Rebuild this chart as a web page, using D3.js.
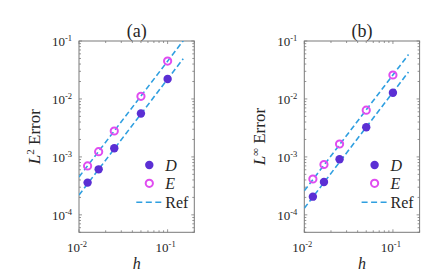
<!DOCTYPE html>
<html>
<head>
<meta charset="utf-8">
<script src="https://cdn.jsdelivr.net/npm/d3@7"></script>
<style>
  body { margin: 0; background: #fff; }
  svg text { font-family: "Liberation Serif", "Times New Roman", serif; fill: #262626; }
</style>
</head>
<body>
<svg id="chart" width="443" height="277"></svg>
<script>
// mesh sizes and measured errors
var hVals = [1/80, 1/60, 1/40, 1/20, 1/10];
var l2D = [3.6e-4, 6.1e-4, 1.41e-3, 5.6e-3, 2.21e-2];
var l2E = [7.0e-4, 1.23e-3, 2.8e-3, 1.11e-2, 4.5e-2];
var linfD = [2.06e-4, 3.7e-4, 9.1e-4, 3.24e-3, 1.28e-2];
var linfE = [4.16e-4, 7.4e-4, 1.67e-3, 6.4e-3, 2.59e-2];

// reference (slope 2) lines, endpoints
var refH = [0.01, 0.15];
var l2RefHi = [4.5e-4, 1.01e-1];
var l2RefLo = [2.2e-4, 4.95e-2];
var linfRefHi = [2.6e-4, 5.85e-2];
var linfRefLo = [1.3e-4, 2.93e-2];

// ticks
var xMajor = [1e-2, 1e-1];
var xMajorExp = ["-2", "-1"];
var yMajor = [1e-1, 1e-2, 1e-3, 1e-4];
var yMajorExp = ["-1", "-2", "-3", "-4"];

var colD = "#5b2fd4";
var colE = "#e04cf0";
var colRef = "#2f9fe0";
var axisCol = "#7a7a7a";

var svg = d3.select("#chart");
var pw = 115.3, ph = 191.3, top0 = 41;

function minorTicks(lo, hi) {
  var out = [];
  for (var e = -6; e <= 0; e++) {
    for (var m = 1; m <= 9; m++) {
      var v = m * Math.pow(10, e);
      if (v >= lo * 0.999 && v <= hi * 1.001) out.push(v);
    }
  }
  return out;
}

function drawPanel(left, title, ylab, ysup, dVals, eVals, refHi, refLo, id) {
  var x = d3.scaleLog().domain([0.01, 0.2]).range([0, pw]);
  var y = d3.scaleLog().domain([5e-5, 0.1]).range([ph, 0]);

  var g = svg.append("g").attr("transform", "translate(" + left + "," + top0 + ")");

  g.append("clipPath").attr("id", "clip" + id)
    .append("rect").attr("width", pw).attr("height", ph);

  // ticks (inward, on all four sides)
  var xm = minorTicks(0.01, 0.2), ym = minorTicks(5e-5, 0.1);
  xm.forEach(function(v) {
    var L = xMajor.indexOf(v) >= 0 ? 3 : 2;
    g.append("line").attr("x1", x(v)).attr("x2", x(v)).attr("y1", ph).attr("y2", ph - L)
      .attr("stroke", axisCol).attr("stroke-width", 0.8);
    g.append("line").attr("x1", x(v)).attr("x2", x(v)).attr("y1", 0).attr("y2", L)
      .attr("stroke", axisCol).attr("stroke-width", 0.8);
  });
  ym.forEach(function(v) {
    var L = yMajor.indexOf(v) >= 0 ? 3 : 2;
    g.append("line").attr("y1", y(v)).attr("y2", y(v)).attr("x1", 0).attr("x2", L)
      .attr("stroke", axisCol).attr("stroke-width", 0.8);
    g.append("line").attr("y1", y(v)).attr("y2", y(v)).attr("x1", pw).attr("x2", pw - L)
      .attr("stroke", axisCol).attr("stroke-width", 0.8);
  });

  g.append("rect").attr("width", pw).attr("height", ph)
    .attr("fill", "none").attr("stroke", axisCol).attr("stroke-width", 1);

  // tick labels
  xMajor.forEach(function(v, i) {
    var t = g.append("text").attr("x", x(v) - 2).attr("y", ph + 20)
      .attr("text-anchor", "middle").style("font-size", "13px");
    t.append("tspan").text("10");
    t.append("tspan").attr("dy", -5).style("font-size", "8.5px").text(xMajorExp[i]);
  });
  yMajor.forEach(function(v, i) {
    var t = g.append("text").attr("x", -7).attr("y", y(v) + 5)
      .attr("text-anchor", "end").style("font-size", "13px");
    t.append("tspan").text("10");
    t.append("tspan").attr("dy", -5).style("font-size", "8.5px").text(yMajorExp[i]);
  });

  // title and axis labels
  g.append("text").attr("x", pw / 2).attr("y", -4).attr("text-anchor", "middle")
    .style("font-size", "18px").text(title);
  g.append("text").attr("x", pw / 2).attr("y", ph + 37).attr("text-anchor", "middle")
    .style("font-size", "16px").style("font-style", "italic").text("h");
  var yl = g.append("text").attr("transform", "translate(-39," + (ph / 2) + ") rotate(-90)")
    .attr("text-anchor", "middle").style("font-size", "17px");
  yl.append("tspan").style("font-style", "italic").text(ylab);
  yl.append("tspan").attr("dy", -6).style("font-size", "11px").text(ysup);
  yl.append("tspan").attr("dy", 6).text(" Error");

  // reference lines
  var line = d3.line().x(function(d) { return x(d[0]); }).y(function(d) { return y(d[1]); });
  var plot = g.append("g").attr("clip-path", "url(#clip" + id + ")");
  [refHi, refLo].forEach(function(r) {
    plot.append("path").datum(d3.zip(refH, r)).attr("d", line)
      .attr("fill", "none").attr("stroke", colRef).attr("stroke-width", 1.6)
      .attr("stroke-dasharray", "5.5,3");
  });

  // points
  plot.selectAll(".d").data(d3.zip(hVals, dVals)).enter().append("circle")
    .attr("cx", function(d) { return x(d[0]); })
    .attr("cy", function(d) { return y(d[1]); })
    .attr("r", 4.2).attr("fill", colD);
  plot.selectAll(".e").data(d3.zip(hVals, eVals)).enter().append("circle")
    .attr("cx", function(d) { return x(d[0]); })
    .attr("cy", function(d) { return y(d[1]); })
    .attr("r", 3.6).attr("fill", "none").attr("stroke", colE).attr("stroke-width", 2);

  // legend
  var lx = pw - 45;
  g.append("circle").attr("cx", lx).attr("cy", 124).attr("r", 4.2).attr("fill", colD);
  g.append("circle").attr("cx", lx).attr("cy", 142.3).attr("r", 3.6)
    .attr("fill", "none").attr("stroke", colE).attr("stroke-width", 2);
  g.append("line").attr("x1", lx - 13).attr("x2", lx + 15).attr("y1", 161.3).attr("y2", 161.3)
    .attr("stroke", colRef).attr("stroke-width", 1.6).attr("stroke-dasharray", "6,3.5");
  g.append("text").attr("x", lx + 16).attr("y", 129.5).style("font-size", "16px")
    .style("font-style", "italic").text("D");
  g.append("text").attr("x", lx + 16).attr("y", 147.8).style("font-size", "16px")
    .style("font-style", "italic").text("E");
  g.append("text").attr("x", lx + 16).attr("y", 166.8).style("font-size", "16px").text("Ref");
}

drawPanel(79, "(a)", "L", "2", l2D, l2E, l2RefHi, l2RefLo, "a");
drawPanel(304.3, "(b)", "L", "\u221E", linfD, linfE, linfRefHi, linfRefLo, "b");
</script>
</body>
</html>
